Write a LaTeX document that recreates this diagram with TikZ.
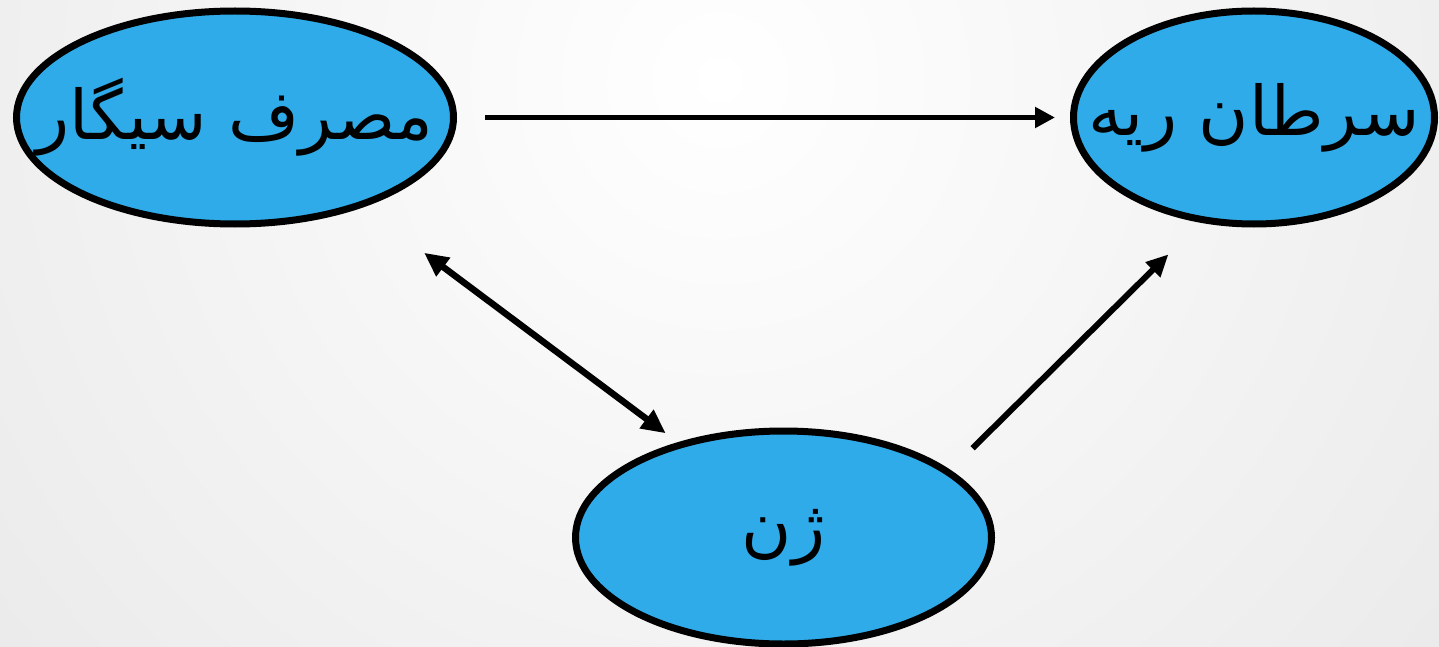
\documentclass[tikz,border=0pt]{standalone}
\usepackage{fontspec}
\newfontfamily\farsi[Script=Arabic]{DejaVu Sans}
\TeXXeTstate=1
\usetikzlibrary{shapes.geometric,arrows.meta}
\definecolor{nodeblue}{RGB}{48,171,233}
\newcommand{\rtltext}[1]{\makebox[0pt][c]{\beginR #1\endR}}
\begin{document}
\begin{tikzpicture}[x=1pt,y=-1pt,
  state/.style={ellipse, draw=black, line width=7pt, fill=nodeblue,
    inner sep=0pt, font=\farsi\fontsize{68.5}{82}\selectfont},
  arr/.style={line width=5pt, -{Triangle[length=20pt,width=20pt]}}]
\useasboundingbox (0,0) rectangle (1439,647);
% soft radial background
\begin{scope}
  \clip (0,0) rectangle (1439,647);
  \shade[inner color=white, outer color=black!16] (720,80) circle (1850);
\end{scope}
% the three factors
\node[state, minimum width=437pt, minimum height=213pt] (smoke) at (235,117.5)
  {\rtltext{مصرف سیگار}};
\node[state, minimum width=361pt, minimum height=213pt] (cancer) at (1254,117.5)
  {\rtltext{سرطان ریه}};
\node[state, minimum width=416pt, minimum height=213pt] (gene) at (783.5,537.5)
  {\rtltext{ژن}};
% relations
\draw[arr, shorten <=28pt, shorten >=15pt] (smoke.east) -- (cancer.west);
\draw[line width=6.5pt, {Triangle[length=24pt,width=22pt]}-{Triangle[length=24pt,width=22pt]},
  shorten <=76pt, shorten >=15pt] (smoke.-35.5) -- (gene.138);
\draw[line width=6pt, -{Triangle[length=22pt,width=20pt]},
  shorten <=31pt, shorten >=45pt] (gene.22.4) -- (cancer.-117);
\end{tikzpicture}
\end{document}
